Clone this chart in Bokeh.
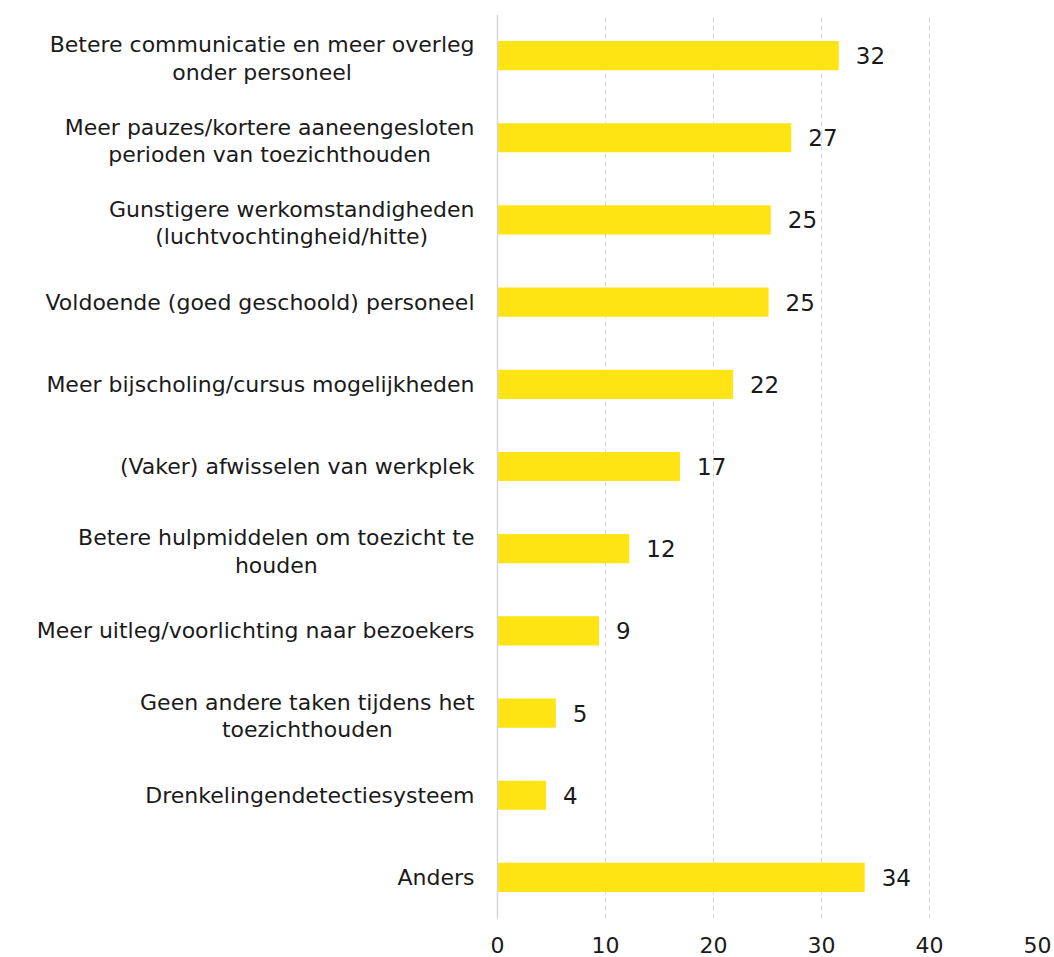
from bokeh.plotting import figure
from bokeh.models import FactorRange, Range1d, Span, Label, ColumnDataSource
from bokeh.core.properties import value
from bokeh.embed import file_html
from bokeh.resources import INLINE

categories = [
    "Betere communicatie en meer overleg\nonder personeel",
    "Meer pauzes/kortere aaneengesloten\nperioden van toezichthouden",
    "Gunstigere werkomstandigheden\n(luchtvochtingheid/hitte)",
    "Voldoende (goed geschoold) personeel",
    "Meer bijscholing/cursus mogelijkheden",
    "(Vaker) afwisselen van werkplek",
    "Betere hulpmiddelen om toezicht te\nhouden",
    "Meer uitleg/voorlichting naar bezoekers",
    "Geen andere taken tijdens het\ntoezichthouden",
    "Drenkelingendetectiesysteem",
    "Anders",
]
values = [31.6, 27.2, 25.3, 25.1, 21.8, 16.9, 12.2, 9.4, 5.4, 4.5, 34.0]
value_labels = ["32", "27", "25", "25", "22", "17", "12", "9", "5", "4", "34"]
x_ticks = [0, 10, 20, 30, 40, 50]

keys = ["c%d" % i for i in range(len(categories))]
n = len(keys)

FONT = "DejaVu Sans"
TXT = "#1a1a1a"

# frame spans the whole width; the label column lives at negative x
p = figure(
    y_range=FactorRange(*reversed(keys), range_padding=0),
    x_range=Range1d(-46.02, 50),
    frame_width=1037, frame_height=904,
    min_border_left=0, min_border_top=14, min_border_right=15,
    min_border_bottom=38,
    output_backend="svg", toolbar_location=None,
)

src = ColumnDataSource(dict(y=keys, v=values, t=value_labels))
p.hbar(y="y", right="v", left=0, height=0.355, source=src,
       fill_color="#FFE414", line_color=None)
p.text(x="v", y="y", text="t", source=src, x_offset=17,
       text_align="left", text_baseline="middle",
       text_font=value(FONT), text_font_size="23px", text_color=TXT)

# category labels: synthetic coordinate of each factor centre in the FactorRange
for i, c in enumerate(categories):
    ypos = (n - 1 - i) + 0.5
    p.add_layout(Label(x=0, y=ypos, x_offset=-23, y_offset=(-3 if "\n" in c else 0),
                       text=c, text_align="center",
                       anchor="center_right", text_baseline="middle",
                       text_font=FONT, text_font_size="22px", text_color=TXT,
                       text_line_height=1.1))

p.add_layout(Span(location=0, dimension="height", line_color="#d6d6d6", line_width=1.5))

p.yaxis.visible = False
p.ygrid.grid_line_color = None
p.xgrid.grid_line_color = "#d9d9d9"
p.xgrid.grid_line_dash = "5 3"
p.xgrid.ticker = x_ticks
p.xaxis.ticker = x_ticks
p.xaxis.axis_line_color = None
p.xaxis.major_tick_line_color = None
p.xaxis.minor_tick_line_color = None
p.xaxis.major_label_standoff = 12
p.xaxis.major_label_text_font = FONT
p.xaxis.major_label_text_font_size = "22px"
p.xaxis.major_label_text_color = TXT
p.outline_line_color = None

open("out.html", "w").write(file_html(p, INLINE))
